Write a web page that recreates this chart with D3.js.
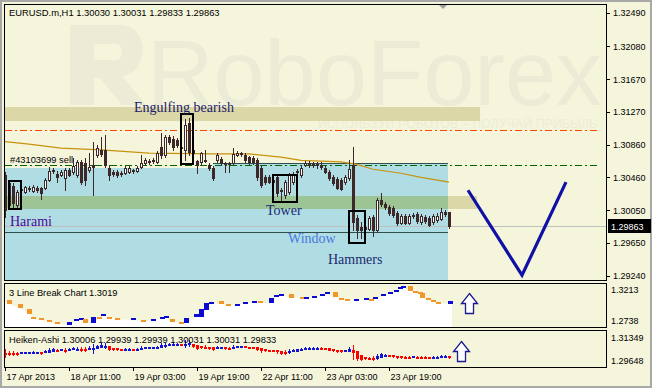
<!DOCTYPE html>
<html>
<head>
<meta charset="utf-8">
<script src="https://cdn.jsdelivr.net/npm/d3@7/dist/d3.min.js"></script>
<style>
body { margin: 0; background: #f5f5dc; }
svg { display: block; font-family: "Liberation Sans", Arial, sans-serif; }
</style>
</head>
<body>
<div id="chart"></div>
<script>
// EURUSD H1 candles, 17 Apr 19:00 .. 24 Apr 10:00
const opens = [1.3049,1.3039,1.3035,1.3012,1.3030,1.3028,1.3032,1.3029,1.3033,1.3033,1.3033,1.3043,1.3054,1.3050,1.3049,1.3045,
  1.3055,1.3053,1.3049,1.3065,1.3064,1.3055,1.3061,1.3074,1.3080,1.3080,1.3058,1.3053,1.3053,1.3050,1.3051,1.3053,
  1.3054,1.3054,1.3059,1.3064,1.3065,1.3066,1.3065,1.3083,1.3074,1.3096,1.3093,1.3092,1.3083,1.3080,1.3113,1.3080,
  1.3066,1.3065,1.3067,1.3061,1.3058,1.3067,1.3069,1.3064,1.3064,1.3064,1.3074,1.3076,1.3074,1.3071,1.3070,1.3067,
  1.3058,1.3046,1.3046,1.3043,1.3046,1.3030,1.3024,1.3028,1.3040,1.3053,1.3049,1.3061,1.3062,1.3061,1.3062,1.3061,
  1.3058,1.3053,1.3046,1.3044,1.3043,1.3040,1.3045,1.3061,1.2996,1.2985,1.2985,1.2982,1.2997,1.2981,1.3018,1.3013,
  1.3009,1.3008,1.3002,1.2990,1.2998,1.2990,1.2999,1.3001,1.2991,1.2997,1.2996,1.2991,1.2993,1.2994,1.3003,1.30030];
const highs = [1.3053,1.3041,1.3039,1.3030,1.3033,1.3035,1.3035,1.3036,1.3035,1.3034,1.3045,1.3059,1.3058,1.3054,1.3055,1.3058,
  1.3058,1.3070,1.3067,1.3067,1.3070,1.3076,1.3090,1.3086,1.3096,1.3098,1.3061,1.3055,1.3055,1.3054,1.3060,1.3060,
  1.3056,1.3060,1.3074,1.3070,1.3069,1.3070,1.3078,1.3101,1.3098,1.3098,1.3097,1.3095,1.3086,1.3118,1.3119,1.3082,
  1.3067,1.3077,1.3080,1.3064,1.3060,1.3076,1.3071,1.3065,1.3065,1.3082,1.3078,1.3077,1.3076,1.3072,1.3072,1.3070,
  1.3060,1.3049,1.3049,1.3045,1.3049,1.3033,1.3043,1.3051,1.3053,1.3056,1.3061,1.3066,1.3066,1.3065,1.3065,1.3065,
  1.3060,1.3055,1.3049,1.3046,1.3045,1.3049,1.3067,1.3083,1.2999,1.2991,1.2987,1.2998,1.2999,1.3020,1.3027,1.3016,
  1.3012,1.3011,1.3004,1.3001,1.3001,1.3001,1.3002,1.3003,1.3001,1.2999,1.2998,1.3001,1.3002,1.3008,1.3006,1.30031];
const lows = [1.2997,1.3008,1.3009,1.3008,1.3027,1.3027,1.3029,1.3028,1.3028,1.3019,1.3032,1.3041,1.3051,1.3040,1.3048,1.3030,
  1.3048,1.3050,1.3046,1.3038,1.3036,1.3053,1.3024,1.3071,1.3072,1.3059,1.3043,1.3048,1.3046,1.3048,1.3050,1.3051,
  1.3051,1.3053,1.3058,1.3062,1.3062,1.3064,1.3064,1.3070,1.3071,1.3087,1.3080,1.3083,1.3080,1.3067,1.3074,1.3072,
  1.3051,1.3062,1.3065,1.3055,1.3043,1.3065,1.3061,1.3053,1.3053,1.3062,1.3072,1.3072,1.3065,1.3062,1.3062,1.3043,
  1.3034,1.3038,1.3039,1.3036,1.3023,1.3018,1.3020,1.3025,1.3038,1.3050,1.3046,1.3060,1.3059,1.3059,1.3058,1.3056,
  1.3051,1.3043,1.3036,1.3032,1.3030,1.3038,1.3043,1.2981,1.2971,1.2971,1.2980,1.2981,1.2973,1.2978,1.3011,1.3007,
  1.2999,1.2997,1.2987,1.2988,1.2988,1.2988,1.2996,1.2990,1.2988,1.2990,1.2986,1.2988,1.2991,1.2993,1.2998,1.29833];
const closes = [1.3006,1.3012,1.3014,1.3028,1.3032,1.3034,1.3033,1.3034,1.3030,1.3027,1.3043,1.3054,1.3055,1.3046,1.3053,1.3055,
  1.3049,1.3060,1.3065,1.3040,1.3043,1.3059,1.3059,1.3082,1.3075,1.3061,1.3049,1.3050,1.3049,1.3051,1.3058,1.3058,
  1.3055,1.3058,1.3064,1.3067,1.3066,1.3067,1.3076,1.3074,1.3096,1.3090,1.3083,1.3086,1.3082,1.3111,1.3077,1.3076,
  1.3061,1.3076,1.3066,1.3058,1.3045,1.3074,1.3064,1.3062,1.3062,1.3075,1.3076,1.3075,1.3067,1.3065,1.3065,1.3046,
  1.3036,1.3040,1.3040,1.3040,1.3027,1.3029,1.3040,1.3049,1.3049,1.3054,1.3058,1.3064,1.3064,1.3062,1.3061,1.3059,
  1.3053,1.3045,1.3039,1.3033,1.3032,1.3046,1.3056,1.2991,1.2981,1.2981,1.2982,1.2996,1.2981,1.3018,1.3013,1.3009,
  1.3002,1.2999,1.2990,1.2998,1.2990,1.2998,1.2998,1.2992,1.2998,1.2992,1.2987,1.2998,1.2998,1.3003,1.3001,1.29863];

// moving average (read at a few bars)
const maBars = [0, 6, 14, 24, 36, 52, 61, 69, 74, 84, 88, 92, 99, 104, 111];
const maVals = [1.3090, 1.3087, 1.3082, 1.3080, 1.3076, 1.3075, 1.3075, 1.3071, 1.3067, 1.3065, 1.3062, 1.3056, 1.3051, 1.3046, 1.3040];

// price axis
const priceTicks = [1.32490, 1.32080, 1.31670, 1.31270, 1.30860, 1.30460, 1.30050, 1.29650, 1.29240];
const lastPrice = 1.29863;

// time axis
const timeTickBars = [0, 16, 32, 48, 64, 80, 96];
const timeTickLabels = ['17 Apr 2013', '18 Apr 11:00', '19 Apr 03:00', '19 Apr 19:00', '22 Apr 11:00', '23 Apr 03:00', '23 Apr 19:00'];

// chart objects
const redLevel = 1.3104;
const greenLevel = 1.3061;
const windowLevel = 1.2978;
const zoneBars = [[-0.25, 52], [52, 110.75]];
const zoneTops = [1.3058, 1.3064];
const bandBars = [[-0.25, 118.75], [-0.25, 118]];
const bandPrices = [[1.3133, 1.3116], [1.3023, 1.3007]];
const patternNames = ['Harami', 'Engulfing bearish', 'Tower', 'Hammers'];
const patternBars = [[2, 3], [45, 46], [68, 72], [87, 89]];
const patternPrices = [[1.3041, 1.3007], [1.3124, 1.3063], [1.3049, 1.3015], [1.3004, 1.2965]];
const noteTexts = ['Engulfing bearish', 'Harami', 'Tower', 'Window', 'Hammers'];
const noteBars = [32.25, 1.25, 65.25, 70.75, 80.75];
const notePrices = [1.31267, 1.29858, 1.29994, 1.29648, 1.29389];
const forecastBars = [115.75, 129.25, 140.25];
const forecastPrices = [1.3030, 1.2925, 1.3040];

// 3 line break bricks
const lbBars = [1, 3.75, 6, 7, 9, 11, 13, 16, 17.75, 19, 20, 22, 23.5, 24.5, 26, 28, 32, 34.5, 37, 39.25, 40.25, 41.75,
  44, 45.25, 47.75, 49, 50.25, 51.5, 54, 55.75, 58, 60, 62.25, 63.75, 66.5, 67.75, 69, 71.5, 74.25, 75.25, 77.25, 79.25,
  80.5, 82.5, 84, 85.5, 87.75, 90.25, 91.5, 92.5, 94.5, 96.25, 97.75, 98.75, 99.5, 101.25, 102.5, 103.75, 104.25, 105.75,
  107, 108.25, 111.25];
const lbHi = [1.3060, 1.2998, 1.2922, 1.2799, 1.2784, 1.2753, 1.2723, 1.2723, 1.2769, 1.2784, 1.2769, 1.2799, 1.2799, 1.2845,
  1.2799, 1.2784, 1.2784, 1.2753, 1.2769, 1.2799, 1.2815, 1.2769, 1.2723, 1.2784, 1.2845, 1.2922, 1.3014, 1.3029, 1.3044,
  1.2998, 1.2998, 1.3029, 1.3044, 1.3044, 1.3090, 1.3136, 1.3152, 1.3152, 1.3106, 1.3106, 1.3121, 1.3152, 1.3182, 1.3182,
  1.3090, 1.3075, 1.3075, 1.3090, 1.3075, 1.3106, 1.3152, 1.3182, 1.3213, 1.3259, 1.3274, 1.3274, 1.3198, 1.3182, 1.3167,
  1.3090, 1.3060, 1.3029, 1.3044];
const lbLo = [1.2998, 1.2937, 1.2845, 1.2784, 1.2753, 1.2723, 1.2692, 1.2677, 1.2738, 1.2753, 1.2708, 1.2708, 1.2784, 1.2815,
  1.2784, 1.2769, 1.2753, 1.2738, 1.2738, 1.2784, 1.2799, 1.2723, 1.2708, 1.2708, 1.2799, 1.2799, 1.2907, 1.3014, 1.2998,
  1.2983, 1.2983, 1.2998, 1.3029, 1.3014, 1.3014, 1.3106, 1.3136, 1.3090, 1.3090, 1.3090, 1.3106, 1.3121, 1.3152, 1.3106,
  1.3075, 1.3060, 1.3060, 1.3075, 1.3060, 1.3075, 1.3121, 1.3152, 1.3182, 1.3228, 1.3259, 1.3198, 1.3182, 1.3167, 1.3090,
  1.3060, 1.3044, 1.3014, 1.2998];
const lbUp = 'DDDDDDDUUUDUDUDDUDUUUDDUUUUUDDUUUDUUUDDUUUUDDDUUDUUUUUUDDDDDDDU'.split('').map(c => c === 'U');
const lbTicks = [1.3213, 1.2738];
const haTicks = [1.31349, 1.29648];

const W = 652, H = 388;
const dark = '#3c2828';

const svg = d3.select('#chart').append('svg')
    .attr('width', W).attr('height', H)
    .attr('shape-rendering', 'crispEdges');

svg.append('rect').attr('width', W).attr('height', H).attr('fill', '#f5f5dc');

const x = d3.scaleLinear().domain([0, 111]).range([5, 449]);
const y = d3.scaleLinear().domain([1.29191, 1.32602]).range([280, 4]);
const y2 = d3.scaleLinear().domain([1.2646, 1.3320]).range([327, 283]);
const y3 = d3.scaleLinear().domain([1.29204, 1.31941]).range([367, 330]);
const px = v => Math.round(v);

const defs = svg.append('defs');
defs.append('clipPath').attr('id', 'clipMain').append('rect').attr('x', 5).attr('y', 5).attr('width', 601).attr('height', 275);
defs.append('clipPath').attr('id', 'clipLb').append('rect').attr('x', 5).attr('y', 284).attr('width', 601).attr('height', 43);

// ---- main panel ----
const main = svg.append('g').attr('clip-path', 'url(#clipMain)');

// watermark
const wm = main.append('g').attr('fill', '#ececd6').attr('shape-rendering', 'auto');
wm.append('path')
    .attr('d', 'M70,25 H120 C150,25 150,72 122,76 L146,105 H122 L100,78 H94 V105 H70 Z M94,44 V60 H116 C124,60 124,44 116,44 Z')
    .attr('fill-rule', 'evenodd');
wm.append('text').attr('x', 147).attr('y', 105).attr('font-size', 92).text('RoboForex');
wm.append('text').attr('x', 318).attr('y', 128).attr('font-size', 12).attr('textLength', 279)
    .text('ИСПОЛЬЗУЙ РОБОТОВ – ПОЛУЧАЙ ПРИБЫЛЬ');

// blue zones
main.selectAll('rect.zone').data(zoneBars).enter().append('rect')
    .attr('class', 'zone')
    .attr('x', d => px(x(d[0])))
    .attr('width', d => px(x(d[1])) - px(x(d[0])))
    .attr('y', (d, i) => px(y(zoneTops[i])))
    .attr('height', (d, i) => 280 - px(y(zoneTops[i])))
    .attr('fill', '#b0dde4');

// bands (khaki, greenish where over the zone)
bandBars.forEach((b, i) => {
    const top = px(y(bandPrices[i][0])), bot = px(y(bandPrices[i][1]));
    main.append('rect').attr('x', px(x(b[0]))).attr('width', px(x(b[1])) - px(x(b[0])))
        .attr('y', top).attr('height', bot - top).attr('fill', '#d6d19c').attr('opacity', 0.85);
});
{
    const top = px(y(bandPrices[1][0])), bot = px(y(bandPrices[1][1]));
    main.append('rect').attr('x', px(x(zoneBars[0][0]))).attr('width', px(x(zoneBars[1][1])) - px(x(zoneBars[0][0])))
        .attr('y', top).attr('height', bot - top).attr('fill', '#9dc495');
}

// zone top line and window line
main.append('line').attr('x1', px(x(zoneBars[1][0]))).attr('x2', px(x(zoneBars[1][1])))
    .attr('y1', px(y(zoneTops[1])) + 0.5).attr('y2', px(y(zoneTops[1])) + 0.5).attr('stroke', '#2f4f4f');
main.append('line').attr('x1', 5).attr('x2', px(x(zoneBars[1][1])))
    .attr('y1', px(y(windowLevel)) + 0.5).attr('y2', px(y(windowLevel)) + 0.5).attr('stroke', '#2f4f4f');

// levels
main.append('line').attr('x1', 5).attr('x2', 600)
    .attr('y1', px(y(redLevel)) + 0.5).attr('y2', px(y(redLevel)) + 0.5)
    .attr('stroke', '#ff4500').attr('stroke-dasharray', '7,3,2,3');
main.append('line').attr('x1', 5).attr('x2', 600)
    .attr('y1', px(y(greenLevel)) + 0.5).attr('y2', px(y(greenLevel)) + 0.5)
    .attr('stroke', '#006400').attr('stroke-dasharray', '7,3,2,3');
main.append('text').attr('x', 10).attr('y', px(y(greenLevel)) - 2)
    .attr('font-size', 9.3).attr('shape-rendering', 'auto').text('#43103699 sell');

// last price line
main.append('line').attr('x1', 5).attr('x2', 606)
    .attr('y1', px(y(lastPrice)) + 0.5).attr('y2', px(y(lastPrice)) + 0.5).attr('stroke', '#c0c0c0');

// moving average
main.append('path')
    .datum(maBars.map((b, i) => [b, maVals[i]]))
    .attr('fill', 'none').attr('stroke', '#c8920f').attr('stroke-width', 1.2)
    .attr('shape-rendering', 'auto')
    .attr('d', d3.line().x(d => x(d[0])).y(d => y(d[1])));

// candles
const idx = d3.range(opens.length);
const cg = main.append('g');
cg.selectAll('line.wick').data(idx).enter().append('line')
    .attr('class', 'wick')
    .attr('x1', i => px(x(i)) + 0.5).attr('x2', i => px(x(i)) + 0.5)
    .attr('y1', i => px(y(highs[i]))).attr('y2', i => px(y(lows[i])) + 1)
    .attr('stroke', dark);
cg.selectAll('rect.body').data(idx).enter().append('rect')
    .attr('class', 'body')
    .each(function (i) {
        const up = closes[i] > opens[i];
        const t = px(y(Math.max(opens[i], closes[i])));
        const b = px(y(Math.min(opens[i], closes[i])));
        const r = d3.select(this);
        if (up) {
            r.attr('x', px(x(i)) - 0.5).attr('width', 2)
                .attr('y', t + 0.5).attr('height', Math.max(b - t, 1))
                .attr('fill', '#ffffff').attr('stroke', dark);
        } else {
            r.attr('x', px(x(i)) - 1).attr('width', 3)
                .attr('y', t).attr('height', Math.max(b - t, 1) + 1)
                .attr('fill', dark);
        }
    });

// pattern boxes
main.selectAll('rect.pattern').data(patternBars).enter().append('rect')
    .attr('class', 'pattern')
    .attr('x', d => px(x(d[0])) - 4).attr('width', d => px(x(d[1])) - px(x(d[0])) + 8)
    .attr('y', (d, i) => px(y(patternPrices[i][0])))
    .attr('height', (d, i) => px(y(patternPrices[i][1])) - px(y(patternPrices[i][0])))
    .attr('fill', 'none').attr('stroke', '#000').attr('stroke-width', 2);

// notes
const noteColors = {'Engulfing bearish': '#1c1c6e', 'Harami': '#4b0a96', 'Tower': '#1c2a6e', 'Window': '#4a78e0', 'Hammers': '#1c2a6e'};
main.selectAll('text.note').data(noteTexts).enter().append('text')
    .attr('class', 'note')
    .attr('x', (d, i) => x(noteBars[i])).attr('y', (d, i) => y(notePrices[i]))
    .attr('font-family', '"Liberation Serif", "Times New Roman", serif').attr('font-size', 14)
    .attr('shape-rendering', 'auto')
    .attr('fill', d => noteColors[d]).text(d => d);

// forecast V
main.append('path')
    .datum(forecastBars.map((b, i) => [b, forecastPrices[i]]))
    .attr('fill', 'none').attr('stroke', '#1010a6').attr('stroke-width', 3.2)
    .attr('shape-rendering', 'auto')
    .attr('d', d3.line().x(d => x(d[0])).y(d => y(d[1])));

// shift marker
main.append('path').attr('d', `M${px(x(109.5)) - 4},5 L${px(x(109.5)) + 4},5 L${px(x(109.5))},9 Z`)
    .attr('fill', '#a0a0a0').attr('shape-rendering', 'auto');

svg.append('text').attr('x', 9).attr('y', 16).attr('font-size', 9.4).text('EURUSD.m,H1  1.30030 1.30031 1.29833 1.29863');

// ---- 3 line break panel ----
const lb = svg.append('g').attr('clip-path', 'url(#clipLb)');
const lbPts = lbBars.map((b, i) => [b, lbLo[i]]);
lbPts.unshift([-0.5, lbHi[0]]);
lbPts.push([lbBars[lbBars.length - 1] + 0.5, lbLo[lbLo.length - 1]]);
lb.append('path').datum(lbPts)
    .attr('fill', '#ffffff').attr('shape-rendering', 'auto')
    .attr('d', d3.area().x(d => x(d[0])).y0(327).y1(d => y2(d[1])));
lb.selectAll('rect.brick').data(lbBars).enter().append('rect')
    .attr('class', 'brick')
    .attr('x', b => px(x(b)) - 2).attr('width', 5)
    .attr('y', (b, i) => px(y2(lbHi[i])))
    .attr('height', (b, i) => Math.max(px(y2(lbLo[i])) - px(y2(lbHi[i])), 2))
    .attr('fill', (b, i) => lbUp[i] ? '#0a0ad2' : '#f0962a');
svg.append('text').attr('x', 9).attr('y', 296).attr('font-size', 9.3).text('3 Line Break Chart 1.3019');

// ---- Heiken-Ashi panel ----
const haO = [], haC = [], haH = [], haL = [];
idx.forEach(i => {
    haC[i] = (opens[i] + highs[i] + lows[i] + closes[i]) / 4;
    haO[i] = i === 0 ? (opens[i] + closes[i]) / 2 : (haO[i - 1] + haC[i - 1]) / 2;
    haH[i] = Math.max(highs[i], haO[i], haC[i]);
    haL[i] = Math.min(lows[i], haO[i], haC[i]);
});
const ha = svg.append('g');
ha.selectAll('line').data(idx).enter().append('line')
    .attr('x1', i => px(x(i)) + 0.5).attr('x2', i => px(x(i)) + 0.5)
    .attr('y1', i => px(y3(haH[i]))).attr('y2', i => px(y3(haL[i])) + 1)
    .attr('stroke', i => haC[i] >= haO[i] ? '#1414d8' : '#ff0000');
ha.selectAll('rect').data(idx).enter().append('rect')
    .attr('x', i => px(x(i)) - 1).attr('width', 3)
    .attr('y', i => px(y3(Math.max(haO[i], haC[i]))))
    .attr('height', i => Math.max(px(y3(Math.min(haO[i], haC[i]))) - px(y3(Math.max(haO[i], haC[i]))), 1) + 1)
    .attr('fill', i => haC[i] >= haO[i] ? '#1414d8' : '#ff0000');
svg.append('text').attr('x', 9).attr('y', 343).attr('font-size', 9.3)
    .text('Heiken-Ashi 1.30006 1.29939 1.29939 1.30031 1.30031 1.29833');

// arrows
const arrow = (cx, top, bot) => `M${cx},${top} L${cx + 8},${top + 10} L${cx + 4},${top + 10} L${cx + 4},${bot} L${cx - 4},${bot} L${cx - 4},${top + 10} L${cx - 8},${top + 10} Z`;
svg.append('path').attr('d', arrow(px(x(116)) + 0.5, px(y2(1.3320)) + 10.5, px(y2(1.2646)) - 13.5))
    .attr('fill', '#fff').attr('stroke', '#1a1a8c').attr('stroke-width', 1.3).attr('shape-rendering', 'auto');
svg.append('path').attr('d', arrow(px(x(114)) + 0.5, px(y3(1.31941)) + 11.5, px(y3(1.29204)) - 5.5))
    .attr('fill', '#fff').attr('stroke', '#1a1a8c').attr('stroke-width', 1.3).attr('shape-rendering', 'auto');

// ---- frames ----
const frames = [[4, 280], [283, 327], [330, 367]];
svg.selectAll('rect.frame').data(frames).enter().append('rect')
    .attr('class', 'frame')
    .attr('x', 4.5).attr('y', d => d[0] + 0.5).attr('width', 602).attr('height', d => d[1] - d[0])
    .attr('fill', 'none').attr('stroke', '#000');
svg.append('rect').attr('x', 1).attr('y', 1).attr('width', W - 2).attr('height', H - 2)
    .attr('fill', 'none').attr('stroke', '#a8a8a8').attr('stroke-width', 2);

// ---- axes ----
const styleAxis = g => {
    g.select('.domain').remove();
    g.attr('font-family', '"Liberation Sans", Arial, sans-serif').attr('font-size', 9);
    g.selectAll('text').attr('shape-rendering', 'auto');
};
svg.append('g').attr('transform', 'translate(607,0)')
    .call(d3.axisRight(y).tickValues(priceTicks).tickFormat(d3.format('.5f')).tickSize(3).tickPadding(3))
    .call(styleAxis);
svg.append('g').attr('transform', 'translate(607,0)')
    .call(d3.axisRight(y2).tickValues(lbTicks).tickFormat(d3.format('.4f')).tickSize(0).tickPadding(4))
    .call(styleAxis);
svg.append('g').attr('transform', 'translate(607,0)')
    .call(d3.axisRight(y3).tickValues(haTicks).tickFormat(d3.format('.5f')).tickSize(0).tickPadding(4))
    .call(styleAxis);

// last price tag
svg.append('rect').attr('x', 608).attr('y', px(y(lastPrice)) - 7).attr('width', 43).attr('height', 14).attr('fill', '#000');
svg.append('text').attr('x', 611).attr('y', px(y(lastPrice)) + 3.5).attr('font-size', 9).attr('fill', '#fff')
    .text(d3.format('.5f')(lastPrice));

const xAxis = svg.append('g').attr('transform', 'translate(0,367)')
    .call(d3.axisBottom(x).tickValues(timeTickBars).tickFormat((d, i) => timeTickLabels[i]).tickSize(4).tickPadding(3))
    .call(styleAxis);
xAxis.selectAll('text').attr('text-anchor', 'start').attr('x', 1);
</script>
</body>
</html>
